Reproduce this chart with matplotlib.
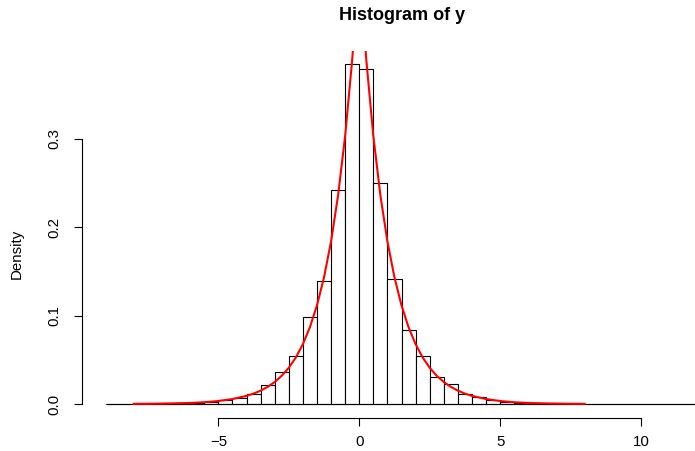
import numpy as np
import matplotlib.pyplot as plt

plt.rcParams['font.family'] = ['Liberation Sans', 'DejaVu Sans']

# Histogram breaks (width 0.5) and bar densities
breaks = np.arange(-9.0, 12.01, 0.5)
density = [0.0001, 0.0001, 0.0002, 0.0004, 0.0006, 0.0010, 0.0016, 0.0026,
           0.0049, 0.0071, 0.0110, 0.0219, 0.0362, 0.0547, 0.0980, 0.1395,
           0.2417, 0.3843, 0.3793, 0.2500, 0.1414, 0.0834, 0.0547, 0.0302,
           0.0226, 0.0110, 0.0079, 0.0042, 0.0023, 0.0014, 0.0008, 0.0005,
           0.0003, 0.0002, 0.0001, 0.0001, 0.0001, 0.0, 0.0, 0.0, 0.0, 0.0001]

# Red density curve
curve_x = [-8, -7.5, -7, -6.5, -6, -5.5, -5, -4.5, -4, -3.75, -3.5, -3.25,
           -3, -2.75, -2.5, -2.25, -2, -1.75, -1.5, -1.25, -1, -0.75, -0.5,
           -0.25, 0, 0.25, 0.5, 0.75, 1, 1.25, 1.5, 1.75, 2, 2.25, 2.5, 2.75,
           3, 3.25, 3.5, 3.75, 4, 4.5, 5, 5.5, 6, 6.5, 7, 7.5, 8]
curve_y = [0.0002, 0.0003, 0.0005, 0.0008, 0.0012, 0.0020, 0.0034, 0.0056,
           0.0092, 0.0118, 0.0151, 0.0194, 0.0249, 0.0320, 0.0410, 0.0527,
           0.0677, 0.0869, 0.1116, 0.1433, 0.1839, 0.2362, 0.3033, 0.3894,
           0.5, 0.3894, 0.3033, 0.2362, 0.1839, 0.1433, 0.1116, 0.0869,
           0.0677, 0.0527, 0.0410, 0.0320, 0.0249, 0.0194, 0.0151, 0.0118,
           0.0092, 0.0056, 0.0034, 0.0020, 0.0012, 0.0008, 0.0005, 0.0003,
           0.0002]

xticks = [-5, 0, 5, 10]
yticks = [0.0, 0.1, 0.2, 0.3]

W, H = 695, 451
fig = plt.figure(figsize=(W / 100, H / 100), dpi=100)
# plot region in pixels: left 82, right 721 (runs past the image), top 50.7, bottom 417.6
ax = fig.add_axes([82 / W, (H - 417.6) / H, (721 - 82) / W, (417.6 - 50.7) / H])

ax.bar(breaks[:-1], density, width=0.5, align='edge', color='white',
       edgecolor='black', linewidth=0.8)
ax.hlines(0, breaks[0], breaks[-1], color='black', linewidth=0.8)
ax.plot(curve_x, curve_y, color='red', linewidth=1.5)

span = breaks[-1] - breaks[0]
ax.set_xlim(breaks[0] - 0.04 * span, breaks[-1] + 0.04 * span)
ymax = max(density)
ax.set_ylim(-0.04 * ymax, ymax * 1.04)

for s in ['top', 'right']:
    ax.spines[s].set_visible(False)
ax.spines['left'].set_bounds(0, 0.3)
ax.spines['bottom'].set_bounds(-5, 10)
for s in ['left', 'bottom']:
    ax.spines[s].set_linewidth(0.8)

ax.set_xticks(xticks)
ax.set_xticklabels(['\u22125', '0', '5', '10'])
ax.set_yticks(yticks)
ax.set_yticklabels(['0.0', '0.1', '0.2', '0.3'], rotation=90, va='center')
ax.tick_params(direction='out', length=6, width=0.8, labelsize=10.8)
ax.tick_params(axis='x', pad=6.5)
ax.tick_params(axis='y', pad=9)

fig.text(17 / W, 1 - 254 / H, 'Density', rotation=90, ha='center',
         va='center', fontsize=10.8)
fig.text(402 / W, 1 - 15 / H, 'Histogram of y', ha='center', va='center',
         fontsize=13, fontweight='bold')

fig.savefig('out.png', dpi=100)
